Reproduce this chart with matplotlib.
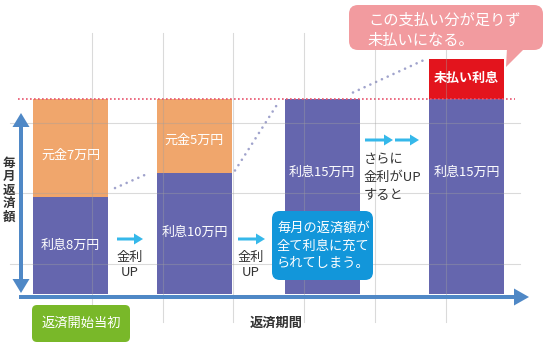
import matplotlib
matplotlib.use("Agg")
import matplotlib.pyplot as plt
from matplotlib.patches import FancyBboxPatch, FancyArrow, Polygon

plt.rcParams['font.family'] = ['Noto Sans CJK JP', 'DejaVu Sans']

# ---- data (万円) ----
interest = [7.5, 9.3, 15, 15]
principal = [7.5, 5.7, 0, 0]
unpaid = [0, 0, 0, 3.1]
interest_labels = ['利息8万円', '利息10万円', '利息15万円', '利息15万円']
principal_labels = ['元金7万円', '元金5万円', '', '']
unpaid_label = '未払い利息'
payment_cap = 15
trend_x = [[115, 149], [235, 279], [353, 424]]
trend_v = [[8.15, 9.3], [9.5, 14.8], [15.5, 18.0]]

# ---- layout ----
bar_x = [70.5, 194.5, 322.0, 466.5]
bar_w = 75
W, H = 550, 350
y0_px, top_px = 294, 99  # value 0 and value 15 in pixel rows

C_PUR = '#6566ae'
C_ORA = '#f0a66c'
C_RED = '#e3141d'
C_PINK = '#f29b9f'
C_BLUE = '#1296da'
C_GREEN = '#79b829'
C_AXIS = '#4f88c6'
C_CYAN = '#35b8ea'
C_DOT = '#a0a3cc'
C_RDOT = '#e8546e'
C_TXT = '#333333'

fig = plt.figure(figsize=(5.5, 3.5), dpi=100)
fig.patch.set_facecolor('white')

# data axes: x in pixel units, y in 万円
axd = fig.add_axes([0, (H - y0_px) / H, 1, (y0_px - top_px) / H])
axd.set_xlim(0, W)
axd.set_ylim(0, payment_cap)
axd.axis('off')

axd.bar(bar_x, interest, width=bar_w, color=C_PUR, zorder=2)
axd.bar(bar_x, principal, width=bar_w, bottom=interest, color=C_ORA, zorder=2)
tops = [a + b for a, b in zip(interest, principal)]
axd.bar(bar_x, unpaid, width=bar_w, bottom=tops, color=C_RED, zorder=2, clip_on=False)

for xs, vs in zip(trend_x, trend_v):
    axd.plot(xs, vs, color=C_DOT, lw=1.9, linestyle=(0, (0.01, 2.4)),
             dash_capstyle='round', clip_on=False, zorder=1)

axd.plot([18, 515], [payment_cap, payment_cap], color=C_RDOT, lw=1.2,
         linestyle=(0, (1.0, 1.4)), clip_on=False, zorder=4)

# overlay axes in pixel coordinates
ax = fig.add_axes([0, 0, 1, 1])
ax.set_xlim(0, W)
ax.set_ylim(H, 0)
ax.axis('off')
ax.patch.set_alpha(0)

# grid lines (drawn faintly over bars)
for gx in [92, 163, 233, 304, 375, 446]:
    ax.plot([gx, gx], [33, 322], color='#a0a0a0', lw=0.8, alpha=0.38, zorder=1)
for gy in [123, 193, 264]:
    ax.plot([10, 520], [gy, gy], color='#a0a0a0', lw=0.8, alpha=0.38, zorder=1)

# axes arrows
ax.add_patch(FancyArrow(21, 203, 0, -90, width=4, head_width=17, head_length=14,
                        length_includes_head=True, color=C_AXIS, lw=0, zorder=3))
ax.add_patch(FancyArrow(21, 203, 0, 90, width=4, head_width=17, head_length=14,
                        length_includes_head=True, color=C_AXIS, lw=0, zorder=3))
ax.add_patch(FancyArrow(19, 297, 510, 0, width=4, head_width=17, head_length=15,
                        length_includes_head=True, color=C_AXIS, lw=0, zorder=3))

ax.text(9, 190, '毎\n月\n返\n済\n額', ha='center', va='center', fontsize=9,
        fontweight='bold', color=C_TXT, linespacing=1.05, zorder=5)

# bar labels
int_label_y = [245, 232, 172, 172]
pri_label_y = [155, 140, None, None]
for x, lab, ly in zip(bar_x, interest_labels, int_label_y):
    ax.text(x, ly, lab, ha='center', va='center', color='white', fontsize=9.4, zorder=5)
for x, lab, ly in zip(bar_x, principal_labels, pri_label_y):
    if lab:
        ax.text(x, ly, lab, ha='center', va='center', color='white', fontsize=9.4, zorder=5)
ax.text(bar_x[3], 78, unpaid_label, ha='center', va='center', color='white',
        fontsize=9.4, fontweight='bold', zorder=5)

# small cyan arrows and texts
for (xa, xb) in [(117, 143), (238, 265), (365, 393), (395, 419)]:
    ax.add_patch(FancyArrow(xa, 239 if xa < 300 else 140, xb - xa, 0, width=3,
                            head_width=11, head_length=9, length_includes_head=True,
                            color=C_CYAN, lw=0, zorder=5))
for cx in [130, 251]:
    ax.text(cx, 257, '金利', ha='center', va='center', color=C_TXT, fontsize=9.5, zorder=5)
    ax.text(cx, 272, 'UP', ha='center', va='center', color=C_TXT, fontsize=9.5, zorder=5)
ax.text(364, 160, 'さらに', ha='left', va='center', color=C_TXT, fontsize=9.5, zorder=5)
ax.text(364, 177, '金利がUP', ha='left', va='center', color=C_TXT, fontsize=9.5, zorder=5)
ax.text(364, 195, 'すると', ha='left', va='center', color=C_TXT, fontsize=9.5, zorder=5)

# blue bubble
ax.add_patch(FancyBboxPatch((272, 211), 101, 69, boxstyle='round,pad=0,rounding_size=8',
                            fc=C_BLUE, ec='none', zorder=6))
for i, line in enumerate(['毎月の返済額が', '全て利息に充て', 'られてしまう。']):
    ax.text(277, 228 + i * 18, line, ha='left', va='center', color='white',
            fontsize=9.5, zorder=7)

# pink bubble
ax.add_patch(FancyBboxPatch((349, 5), 194, 45, boxstyle='round,pad=0,rounding_size=9',
                            fc=C_PINK, ec='none', zorder=6))
ax.add_patch(Polygon([(507, 48), (528, 45), (506, 67)], closed=True, fc=C_PINK,
                     ec='none', zorder=6))
ax.text(368, 20, 'この支払い分が足りず', ha='left', va='center', color='white',
        fontsize=11, zorder=7)
ax.text(368, 40, '未払いになる。', ha='left', va='center', color='white',
        fontsize=11, zorder=7)

# green label
ax.add_patch(FancyBboxPatch((32, 305), 98, 37, boxstyle='round,pad=0,rounding_size=5',
                            fc=C_GREEN, ec='none', zorder=6))
ax.text(81, 323, '返済開始当初', ha='center', va='center', color='white',
        fontsize=9.5, zorder=7)
ax.text(276, 323, '返済期間', ha='center', va='center', color=C_TXT,
        fontsize=9.5, fontweight='bold', zorder=7)

fig.savefig('out.png', dpi=100)
